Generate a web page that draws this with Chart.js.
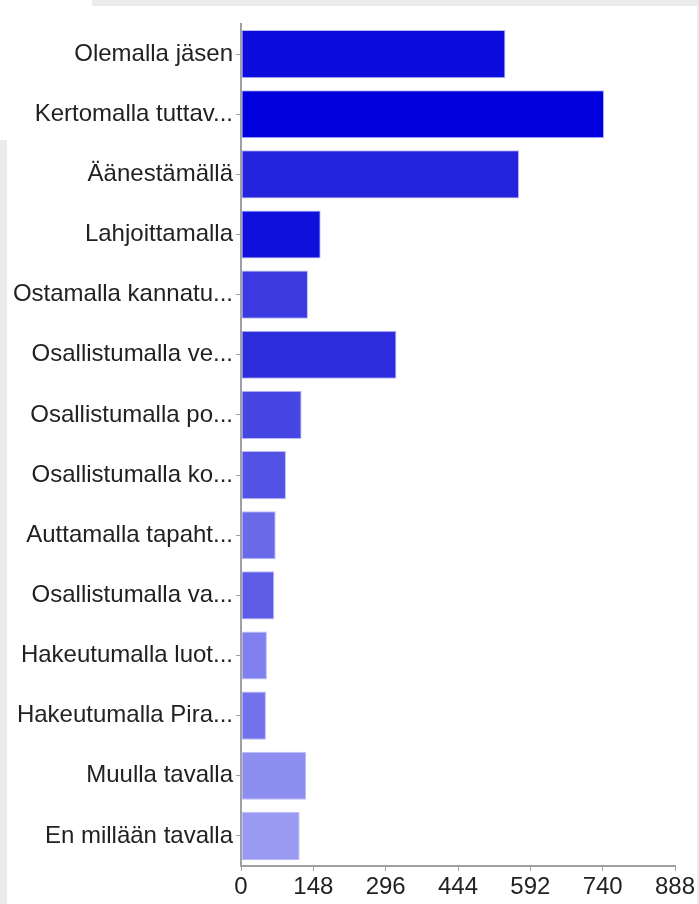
<!DOCTYPE html>
<html>
<head>
<meta charset="utf-8">
<script src="https://cdn.jsdelivr.net/npm/chart.js@4"></script>
<style>
  html, body { margin: 0; padding: 0; background: #ffffff; }
  #wrap { position: relative; width: 699px; height: 904px; background: #ffffff; overflow: hidden; }
  .edge { position: absolute; background: #ebebeb; }
  #chart { position: absolute; left: 0; top: 0; }
</style>
</head>
<body>
<div id="wrap">
  <div class="edge" style="left:92px; top:0; width:607px; height:6px;"></div>
  <div class="edge" style="left:0; top:140px; width:7px; height:764px;"></div>
  <div class="edge" style="left:697px; top:0; width:2px; height:904px;"></div>
  <canvas id="chart" width="699" height="904"></canvas>
</div>
<script>
// kategoriat ja arvot (luettu kuvasta)
const categories = [
    'Olemalla jäsen',
    'Kertomalla tuttav...',
    'Äänestämällä',
    'Lahjoittamalla',
    'Ostamalla kannatu...',
    'Osallistumalla ve...',
    'Osallistumalla po...',
    'Osallistumalla ko...',
    'Auttamalla tapaht...',
    'Osallistumalla va...',
    'Hakeutumalla luot...',
    'Hakeutumalla Pira...',
    'Muulla tavalla',
    'En millään tavalla'
];
const counts = [541, 743, 569, 163, 137, 318, 124, 92, 71, 68, 53, 51, 133, 120];
const barColors = [
    '#0c0cdd', '#0000dc', '#2424dd', '#1010dc', '#3a3ae0', '#2c2cdd', '#4646e3',
    '#5252e4', '#6a6ae8', '#5c5ce6', '#8080ee', '#7272ea', '#8e8ef0', '#9a9af2'
];
const xTicks = [0, 148, 296, 444, 592, 740, 888];

document.addEventListener('DOMContentLoaded', () => {
    const ctx = document.getElementById('chart');
    const font = { family: '"Liberation Sans", Arial, sans-serif', size: 24 };
    const axisColor = '#a0a0a0';

    new Chart(ctx, {
        type: 'bar',
        data: {
            labels: categories,
            datasets: [{
                data: counts,
                backgroundColor: barColors,
                borderColor: 'rgba(170,170,250,0.8)',
                borderWidth: 1,
                borderSkipped: false,
                barPercentage: 0.8,
                categoryPercentage: 1.0
            }]
        },
        options: {
            indexAxis: 'y',
            responsive: false,
            animation: false,
            layout: { padding: { top: 24, right: 24, bottom: 0, left: 0 } },
            plugins: { legend: { display: false }, tooltip: { enabled: false } },
            scales: {
                x: {
                    min: xTicks[0],
                    max: xTicks[xTicks.length - 1],
                    afterBuildTicks: s => { s.ticks = xTicks.map(v => ({ value: v })); },
                    afterFit: s => { s.height = 38; },
                    ticks: { color: '#222', font: font, padding: 2, maxRotation: 0 },
                    grid: { drawOnChartArea: false, drawTicks: true, tickLength: 5, color: axisColor },
                    border: { display: true, color: axisColor, width: 2 }
                },
                y: {
                    afterFit: s => { s.width = 241; },
                    ticks: { color: '#222', font: font, padding: 3, autoSkip: false },
                    grid: { offset: false, drawOnChartArea: false, drawTicks: true, tickLength: 5, color: axisColor },
                    border: { display: true, color: axisColor, width: 2 }
                }
            }
        }
    });
});
</script>
</body>
</html>
